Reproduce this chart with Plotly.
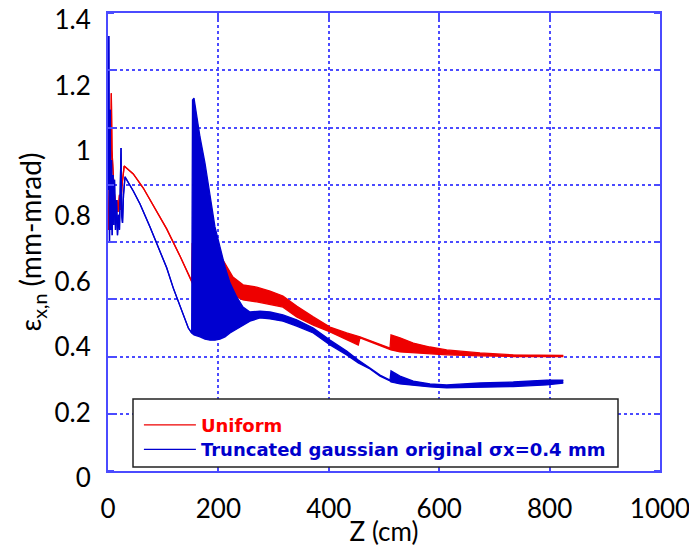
import plotly.graph_objects as go

# ---------------- data ----------------
# Uniform: z (cm), upper and lower envelope of the emittance trace
uni_z = [0.5, 2.7, 4.5, 6.0, 7.2, 8.7, 10.9, 13.6, 16.3, 18.1, 20.8, 22.6, 25.4, 29.3,
         45.8, 63.9, 82.1, 106.3, 130.4, 151.6,
         152.5, 166.7, 184.8, 208.3, 226.4, 244.6, 269.4, 293.5, 317.0, 341.8,
         371.9, 402.2, 432.4, 453.4, 456.5, 510.9, 512.7, 529.0, 553.1, 583.3,
         613.6, 673.9, 734.2, 824.8]
uni_hi = [0.737, 0.890, 0.798, 1.155, 0.981, 0.905, 0.859, 0.813, 0.828, 0.792, 0.844, 0.798, 0.874, 0.932,
          0.908, 0.865, 0.813, 0.740, 0.657, 0.581,
          0.697, 0.675, 0.660, 0.645, 0.593, 0.569, 0.562, 0.550, 0.535, 0.504,
          0.471, 0.440, 0.422, 0.413, 0.410, 0.376, 0.416, 0.407, 0.391, 0.379,
          0.370, 0.361, 0.355, 0.353]
uni_lo = [0.737, 0.890, 0.798, 1.155, 0.981, 0.905, 0.859, 0.813, 0.828, 0.792, 0.844, 0.798, 0.874, 0.932,
          0.908, 0.865, 0.813, 0.740, 0.657, 0.581,
          0.575, 0.575, 0.578, 0.584, 0.538, 0.523, 0.517, 0.510, 0.501, 0.471,
          0.446, 0.425, 0.400, 0.385, 0.407, 0.373, 0.370, 0.364, 0.361, 0.358,
          0.355, 0.352, 0.350, 0.350]

# Truncated gaussian
tg_z = [0.36, 1.45, 2.72, 3.99, 5.07, 6.34, 7.61, 9.06, 10.5, 11.8, 13.6, 15.4, 17.2, 19.0,
        20.8, 22.3, 23.6, 24.8, 26.3, 28.1, 30.8,
        45.8, 58.0, 76.1, 94.2, 106.3, 118.3, 130.4, 139.5, 145.5, 151.6,
        153.1, 155.8, 166.7, 175.7, 184.8, 193.8, 202.9, 212.0, 221.0, 233.2,
        244.6, 257.2, 275.4, 293.5, 317.0, 341.8, 371.9, 402.2, 432.4, 453.4,
        474.6, 492.8, 510.9, 512.7, 529.0, 553.1, 583.3, 613.6, 673.9, 734.2,
        794.7, 824.8]
tg_hi = [0.859, 1.330, 0.697, 1.104, 0.737, 0.951, 0.721, 0.905, 0.752, 0.890, 0.737, 0.828, 0.721, 0.783,
         0.737, 0.859, 0.987, 0.783, 0.758, 0.844, 0.899,
         0.856, 0.816, 0.746, 0.669, 0.621, 0.559, 0.507, 0.462, 0.437, 0.422,
         1.134, 1.140, 1.021, 0.941, 0.838, 0.746, 0.685, 0.624, 0.575, 0.532,
         0.501, 0.486, 0.489, 0.486, 0.477, 0.462, 0.437, 0.400, 0.367, 0.339,
         0.315, 0.293, 0.278, 0.306, 0.290, 0.275, 0.266, 0.263, 0.269, 0.272,
         0.278, 0.278]
tg_lo = [0.859, 1.330, 0.697, 1.104, 0.737, 0.951, 0.721, 0.905, 0.752, 0.890, 0.737, 0.828, 0.721, 0.783,
         0.737, 0.859, 0.987, 0.783, 0.758, 0.844, 0.899,
         0.856, 0.816, 0.746, 0.669, 0.621, 0.559, 0.507, 0.462, 0.437, 0.422,
         0.419, 0.416, 0.410, 0.403, 0.400, 0.400, 0.403, 0.410, 0.422, 0.434,
         0.446, 0.458, 0.468, 0.465, 0.458, 0.443, 0.422, 0.385, 0.355, 0.330,
         0.312, 0.290, 0.275, 0.272, 0.266, 0.261, 0.257, 0.254, 0.255, 0.258,
         0.263, 0.269]

x_ticks = [0, 200, 400, 600, 800, 1000]
y_ticks = [0, 0.2, 0.4, 0.6, 0.8, 1.0, 1.2, 1.4]
y_ticktext = ["0", "0.2", "0.4", "0.6", "0.8", "1", "1.2", "1.4"]
series_names = ["Uniform", "Truncated gaussian original \u03c3x=0.4 mm"]

# ---------------- styles ----------------
RED = "#ee0000"
BLUE = "#0000d0"
RED_TXT = "#ff0000"
BLUE_TXT = "#0000cc"
FRAME = "#4b4bff"
TICKFONT = dict(family="Lato", size=26, color="black")
LEGFONT = dict(family="DejaVu Sans", size=18, color="black")

fig = go.Figure()
for name, z, hi, lo, col, tcol, leg in [
        (series_names[0], uni_z, uni_hi, uni_lo, RED, RED_TXT, "legend"),
        (series_names[1], tg_z, tg_hi, tg_lo, BLUE, BLUE_TXT, "legend2")]:
    label = '<b><span style="color:%s">%s</span></b>' % (tcol, name)
    fig.add_trace(go.Scatter(x=z, y=lo, mode="lines", name=label, legend=leg,
                             line=dict(color=col, width=1.3), showlegend=True))
    fig.add_trace(go.Scatter(x=z, y=hi, mode="lines", name=label, legend=leg,
                             line=dict(color=col, width=1.3), fill="tonexty",
                             fillcolor=col, showlegend=False))

fig.update_layout(
    width=689, height=547, autosize=False,
    margin=dict(l=108, r=29, t=13, b=76),
    paper_bgcolor="white", plot_bgcolor="white",
    showlegend=True,
    legend=dict(x=0.056, xanchor="left", y=0.1405, yanchor="top",
                bgcolor="rgba(0,0,0,0)", borderwidth=0, traceorder="normal",
                font=LEGFONT, itemwidth=52),
    legend2=dict(x=0.056, xanchor="left", y=0.0868, yanchor="top",
                 bgcolor="rgba(0,0,0,0)", borderwidth=0, traceorder="normal",
                 font=LEGFONT, itemwidth=52),
    shapes=[dict(type="rect", xref="paper", yref="paper",
                 x0=0.0453, x1=0.9239, y0=0.0087, y1=0.157,
                 line=dict(color="#222222", width=1.5), fillcolor="white",
                 layer="above")],
)

fig.update_xaxes(
    range=[0, 1000], tickvals=x_ticks, ticktext=[str(v) for v in x_ticks],
    showline=True, linecolor=FRAME, linewidth=2, mirror="ticks",
    ticks="inside", ticklen=6, tickcolor=FRAME, tickwidth=2,
    showgrid=True, gridcolor=FRAME, griddash="dot", gridwidth=1.5,
    zeroline=False, tickfont=TICKFONT, ticklabelstandoff=14,
    ticklabeloverflow="allow", automargin=False,
    title=dict(text="Z (cm)", font=dict(family="Lato", size=26, color="black"),
               standoff=0),
)
fig.update_yaxes(
    range=[0, 1.4], tickvals=y_ticks, ticktext=y_ticktext,
    showline=True, linecolor=FRAME, linewidth=2, mirror="allticks",
    ticks="", showgrid=False, zeroline=False,
    minor=dict(dtick=0.175, tick0=0, showgrid=True, gridcolor=FRAME, griddash="dot",
               gridwidth=1.5, ticks="inside", ticklen=6, tickcolor=FRAME, tickwidth=2),
    tickfont=TICKFONT, ticklabelstandoff=10, ticklabelshift=7,
    ticklabeloverflow="allow", automargin=False,
    title=dict(text="\u00a0\u00a0\u00a0\u00a0\u03b5<sub>x,n</sub> (mm-mrad)",
               font=dict(family="Lato", size=28, color="black"), standoff=5),
)

fig.write_html("out.html")
